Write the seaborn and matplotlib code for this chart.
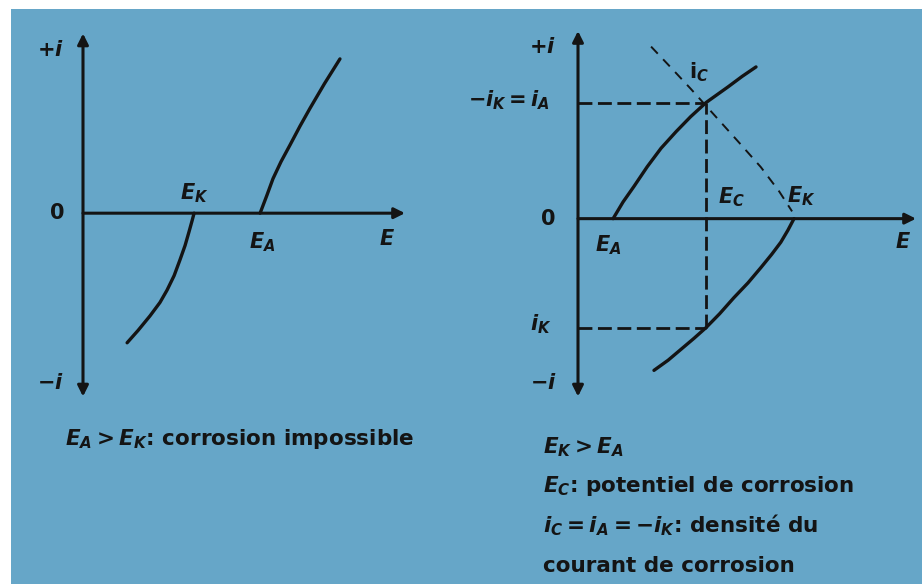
import numpy as np
import seaborn as sns
import matplotlib.pyplot as plt
from matplotlib.patches import Rectangle

# LEFT DIAGRAM: E_A > E_K (no corrosion)
left_cath_E = [1.37, 1.71, 2.08, 2.39, 2.61, 2.83, 3.01, 3.17, 3.29, 3.39, 3.45]
left_cath_i = [-3.57, -3.23, -2.83, -2.46, -2.12, -1.72, -1.29, -0.89, -0.52, -0.20, 0.0]
left_anod_E = [5.50, 5.71, 5.90, 6.15, 6.43, 6.74, 7.05, 7.50, 7.98]
left_anod_i = [0.0, 0.49, 0.95, 1.42, 1.88, 2.40, 2.89, 3.57, 4.25]

# RIGHT DIAGRAM: E_K > E_A (corrosion)
right_anod_E = [1.09, 1.40, 1.74, 2.15, 2.58, 3.05, 3.50, 3.98, 4.66, 5.10, 5.53]
right_anod_i = [0.0, 0.46, 0.89, 1.43, 1.94, 2.40, 2.81, 3.2, 3.63, 3.92, 4.18]
right_cath_E = [2.36, 2.80, 3.20, 3.60, 3.98, 4.40, 4.84, 5.28, 5.68, 6.02, 6.30, 6.52, 6.71]
right_cath_i = [-4.18, -3.90, -3.60, -3.30, -3.0, -2.62, -2.18, -1.77, -1.35, -0.98, -0.65, -0.32, 0.0]
mirror_E = [2.27, 2.90, 3.51, 4.29, 5.00, 5.68, 6.25, 6.65]
mirror_i = [4.74, 4.15, 3.57, 2.80, 2.10, 1.42, 0.75, 0.20]
E_C = 3.98
i_A = 3.2
i_K = -3.0

BG = "#66a6c8"
INK = "#141414"

sns.set_style("white")
plt.rcParams["font.family"] = ["DejaVu Sans"]
plt.rcParams["font.weight"] = "bold"
plt.rcParams["mathtext.fontset"] = "custom"
plt.rcParams["mathtext.rm"] = "DejaVu Sans:bold"
plt.rcParams["mathtext.it"] = "DejaVu Sans:bold:italic"
plt.rcParams["mathtext.bf"] = "DejaVu Sans:bold"

W, H = 922, 584
fig = plt.figure(figsize=(W / 100, H / 100), dpi=100)
fig.patch.set_facecolor("white")
fig.add_artist(Rectangle((11 / W, 0), 1, (H - 9) / H, transform=fig.transFigure,
                         facecolor=BG, edgecolor="none", zorder=-10))


def px_axes(x0, x1, ytop, ybot):
    return fig.add_axes([x0 / W, 1 - ybot / H, (x1 - x0) / W, (ybot - ytop) / H])


def draw_frame(ax, xmax, ymin, ymax):
    ax.set_xlim(0, xmax)
    ax.set_ylim(ymin, ymax)
    ax.axis("off")
    ax.patch.set_alpha(0)
    ax.annotate("", xy=(0, ymax), xytext=(0, ymin), annotation_clip=False,
                arrowprops=dict(arrowstyle="<|-|>", color=INK, lw=2.2,
                                mutation_scale=16, shrinkA=0, shrinkB=0))
    ax.annotate("", xy=(xmax, 0), xytext=(0, 0), annotation_clip=False,
                arrowprops=dict(arrowstyle="-|>", color=INK, lw=2.2,
                                mutation_scale=16, shrinkA=0, shrinkB=0))


def label(ax, x, y, s, size=15, **kw):
    ax.text(x, y, s, ha="center", va="center", fontsize=size, color=INK,
            fontweight="bold", clip_on=False, **kw)


# left panel
axL = px_axes(83, 405, 33.5, 396.5)
draw_frame(axL, 10, -5.05, 4.95)
sns.lineplot(x=left_cath_E, y=left_cath_i, sort=False, estimator=None,
             color=INK, lw=2.4, ax=axL)
sns.lineplot(x=left_anod_E, y=left_anod_i, sort=False, estimator=None,
             color=INK, lw=2.4, ax=axL)
label(axL, -1.02, 4.49, r"+$i$")
label(axL, -0.81, 0.0, "0")
label(axL, -1.02, -4.68, r"$-i$")
label(axL, 3.45, 0.55, r"$E_K$")
label(axL, 5.56, -0.8, r"$E_A$")
label(axL, 9.44, -0.71, r"$E$")

# right panel
axR = px_axes(578, 916, 31, 396.5)
draw_frame(axR, 10.5, -4.9, 5.17)
sns.lineplot(x=right_anod_E, y=right_anod_i, sort=False, estimator=None,
             color=INK, lw=2.4, ax=axR)
sns.lineplot(x=right_cath_E, y=right_cath_i, sort=False, estimator=None,
             color=INK, lw=2.4, ax=axR)
axR.plot(mirror_E, mirror_i, color=INK, lw=1.4, dashes=(5, 4))
axR.hlines([i_A, i_K], 0, E_C, color=INK, lw=2.0, linestyles=(0, (5, 2)))
axR.vlines(E_C, i_K, i_A, color=INK, lw=2.0, linestyles=(0, (5, 2)))
label(axR, -1.09, 4.74, r"+$i$")
label(axR, -0.93, 0.0, "0")
label(axR, -1.06, -4.52, r"$-i$")
label(axR, -2.14, 3.26, r"$-i_K = i_A$")
label(axR, -1.15, -2.9, r"$i_K$")
label(axR, 3.76, 4.03, r"$\mathrm{i}_C$")
label(axR, 4.78, 0.6, r"$E_C$")
label(axR, 6.93, 0.63, r"$E_K$")
label(axR, 0.93, -0.74, r"$E_A$")
label(axR, 10.1, -0.65, r"$E$")

# captions
cap = dict(fontsize=15.5, fontweight="bold", color=INK, va="center", ha="left")
fig.text(65 / W, 1 - 439 / H, r"$E_A > E_K$: corrosion impossible", **cap)
fig.text(543 / W, 1 - 447 / H, r"$E_K > E_A$", **cap)
fig.text(543 / W, 1 - 486 / H, r"$E_C$: potentiel de corrosion", **cap)
fig.text(543 / W, 1 - 525 / H, r"$i_C = i_A = -i_K$: densité du", **cap)
fig.text(543 / W, 1 - 566 / H, "courant de corrosion", **cap)

plt.savefig("out.png", dpi=100, facecolor=fig.get_facecolor())
